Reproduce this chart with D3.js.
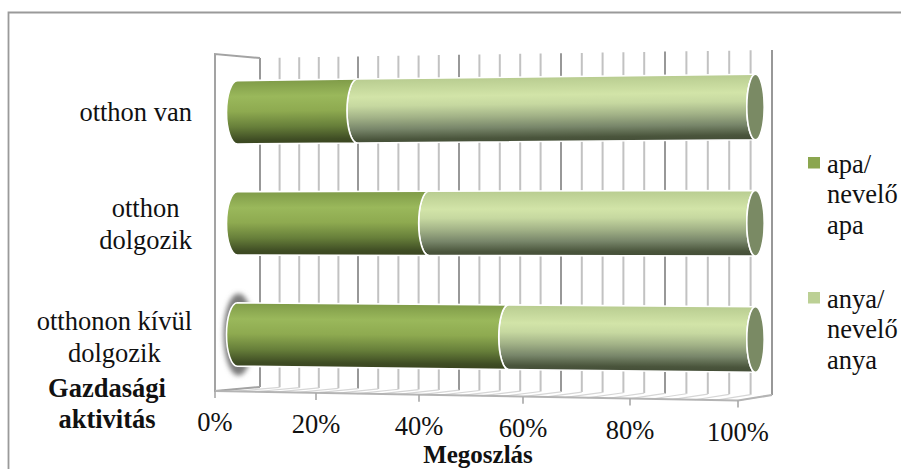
<!DOCTYPE html>
<html lang="hu">
<head>
<meta charset="utf-8">
<title>Gazdasági aktivitás megoszlása</title>
<script src="https://cdn.jsdelivr.net/npm/d3@7/dist/d3.min.js"></script>
<style>
  html, body { margin: 0; padding: 0; background: #fff; }
  svg { display: block; }
  text { font-family: "Liberation Serif", "Times New Roman", serif; fill: #111; }
</style>
</head>
<body>
<svg id="chart" width="901" height="469"></svg>
<script>
// Share of respondents by economic activity (100% stacked cylinders)
const categories = [["otthon van"], ["otthon", "dolgozik"], ["otthonon kívül", "dolgozik"]];
const apaValues = [24, 38, 53.5];
const anyaValues = [76, 62, 46.5];
const percentTicks = [0, 20, 40, 60, 80, 100];
const gridSteps = d3.range(0, 101, 4);
const legendItems = [["apa/", "nevelő", "apa"], ["anya/", "nevelő", "anya"]];
const yTitle = ["Gazdasági", "aktivitás"];
const xTitle = "Megoszlás";

const FONT = 26.5;
const svg = d3.select("#chart");
const defs = svg.append("defs");

// The 3D box: the plot is perspective-skewed, so each depth plane has its own scale
const backX = d3.scaleLinear().domain(percentTicks).range([260, 358, 459, 561, 665, 772]);
const frontX = d3.scaleLinear().domain(percentTicks).range([215, 316, 419, 523, 630, 738]);
const midX = d3.scaleLinear().domain(percentTicks).range([237.5, 337, 439, 542, 647.5, 755.5]);
const backTop = d3.scaleLinear().domain([0, 100]).range([58, 50]);
const backBottom = d3.scaleLinear().domain([0, 100]).range([387, 395]);
const frontBottom = d3.scaleLinear().domain([0, 100]).range([391, 400.5]);

const rowKeys = categories.map((_, i) => i);
const centerLeft = d3.scalePoint().domain(rowKeys).range([112.3, 334.5]);
const centerRight = d3.scalePoint().domain(rowKeys).range([107, 339.5]);
const halfHeight = d3.scaleLinear().domain([0, 100]).range([31.7, 32.8]);
const capRadius = d3.scaleLinear().domain([0, 100]).range([11, 8.7]);

const rowCenter = (row, pct) =>
  d3.interpolateNumber(centerLeft(row), centerRight(row))(pct / 100);

// Chart frame: only the upper and left edges fall inside the page
svg.append("path")
  .attr("d", d3.line()([[8.5, 469], [8.5, 12.5], [901, 12.5]]))
  .attr("fill", "none").attr("stroke", "#9a9a9a").attr("stroke-width", 1.8);

// Back wall grid
const wall = svg.append("g").attr("fill", "none");
wall.selectAll("line.grid").data(gridSteps).join("line")
  .attr("class", "grid")
  .attr("x1", backX).attr("x2", backX)
  .attr("y1", backTop).attr("y2", backBottom)
  .attr("stroke", d => d % 20 === 0 ? "#989898" : "#c2c2c2")
  .attr("stroke-width", 2);

// Floor lines running towards the front edge
wall.selectAll("line.floor").data(gridSteps).join("line")
  .attr("class", "floor")
  .attr("x1", backX).attr("y1", backBottom)
  .attr("x2", frontX).attr("y2", frontBottom)
  .attr("stroke", "#d6d6d6").attr("stroke-width", 1.2);

// Left side wall outline and the front edge of the floor
wall.append("path")
  .attr("d", d3.line()([
    [backX(0), backBottom(0)], [frontX(0), frontBottom(0)],
    [frontX(0), 54], [backX(0), backTop(0)]
  ]))
  .attr("stroke", "#a3a3a3").attr("stroke-width", 2);
wall.append("line")
  .attr("x1", frontX(0)).attr("y1", frontBottom(0))
  .attr("x2", frontX(100)).attr("y2", frontBottom(100))
  .attr("stroke", "#b4b4b4").attr("stroke-width", 2);
wall.append("line")
  .attr("x1", frontX(100)).attr("y1", frontBottom(100))
  .attr("x2", backX(100)).attr("y2", backBottom(100))
  .attr("stroke", "#b4b4b4").attr("stroke-width", 2);

// Percent axis along the slanted front edge
const axis = d3.axisBottom(frontX).tickValues(percentTicks)
  .tickFormat(d => d + "%").tickSize(7);
const axisG = svg.append("g").call(axis);
axisG.select(".domain").remove();
axisG.selectAll(".tick")
  .attr("transform", d => `translate(${frontX(d)},${frontBottom(d)})`);
axisG.selectAll(".tick line").attr("stroke", "#a8a8a8").attr("stroke-width", 1.6);
axisG.selectAll(".tick text")
  .attr("font-size", FONT).attr("y", 40).attr("dy", 0);

// Cylinder shading
const shades = {
  apa: [[0, "#7f9b48"], [0.25, "#9ab85b"], [0.48, "#8eaa50"], [0.72, "#677f3a"], [0.92, "#3f4d24"], [1, "#39441f"]],
  anya: [[0, "#b8cc90"], [0.28, "#d2e4a8"], [0.42, "#c6d8a0"], [0.6, "#a2b287"], [0.78, "#78866a"], [0.94, "#4a553c"], [1, "#454f38"]]
};

function barGradient(id, stops, row) {
  const topL = centerLeft(row) - halfHeight(0);
  const topR = centerRight(row) - halfHeight(100);
  const h = 2 * halfHeight(50);
  const slope = (topR - topL) / (midX(100) - midX(0));
  const g = defs.append("linearGradient").attr("id", id)
    .attr("gradientUnits", "userSpaceOnUse")
    .attr("x1", midX(0)).attr("y1", topL)
    .attr("x2", midX(0) - slope * h).attr("y2", topL + h);
  stops.forEach(([o, c]) => g.append("stop").attr("offset", o).attr("stop-color", c));
}

function segmentPath(row, from, to) {
  const xa = midX(from), xb = midX(to);
  const ca = rowCenter(row, from), cb = rowCenter(row, to);
  const ha = halfHeight(from), hb = halfHeight(to);
  const ra = capRadius(from), rb = capRadius(to);
  const arcB = `A${rb},${hb} 0 0 0 ${xb},${cb + hb}`;
  const arcA = `A${ra},${ha} 0 0 1 ${xa},${ca - ha}`;
  return `M${xa},${ca - ha}L${xb},${cb - hb}${arcB}L${xa},${ca + ha}${arcA}Z`;
}

// Soft halo around the left end of the lowest cylinder
defs.append("filter").attr("id", "halo")
  .attr("x", "-100%").attr("y", "-30%").attr("width", "300%").attr("height", "160%")
  .append("feGaussianBlur").attr("stdDeviation", 2.6);
svg.append("ellipse")
  .attr("cx", midX(0) + 1).attr("cy", rowCenter(2, 0))
  .attr("rx", 15).attr("ry", 41)
  .attr("fill", "#7a7a7a").attr("filter", "url(#halo)");

const bars = svg.append("g");
rowKeys.forEach(row => {
  barGradient(`apa-${row}`, shades.apa, row);
  barGradient(`anya-${row}`, shades.anya, row);
  const split = apaValues[row];
  const total = split + anyaValues[row];
  bars.append("path").attr("d", segmentPath(row, split, total))
    .attr("fill", `url(#anya-${row})`).attr("stroke", "#fff").attr("stroke-width", 1.6);
  bars.append("path").attr("d", segmentPath(row, 0, split))
    .attr("fill", `url(#apa-${row})`).attr("stroke", "#fff").attr("stroke-width", 1.6);
  bars.append("ellipse")
    .attr("cx", midX(total)).attr("cy", rowCenter(row, total))
    .attr("rx", capRadius(total)).attr("ry", halfHeight(total))
    .attr("fill", "#7a8a64").attr("stroke", "#fff").attr("stroke-width", 1.6);
});

// Multi-line block whose widest line ends at the given right edge
function rightBlock(lines, rightEdge, firstBaseline, lineGap) {
  const g = svg.append("g").attr("font-size", FONT).attr("text-anchor", "middle");
  const t = g.selectAll("text").data(lines).join("text")
    .attr("y", (_, i) => firstBaseline + i * lineGap).text(d => d);
  const widest = d3.max(t.nodes(), n => n.getComputedTextLength());
  t.attr("x", rightEdge - widest / 2);
}

const labelBaselines = [120.5, 217, 330];
categories.forEach((lines, i) => rightBlock(lines, 192, labelBaselines[i], 31.5));

svg.append("g").attr("font-size", FONT).attr("font-weight", "bold").attr("text-anchor", "middle")
  .selectAll("text").data(yTitle).join("text")
  .attr("x", 107).attr("y", (_, i) => 397 + i * 31).text(d => d);

svg.append("text").attr("font-size", 25).attr("font-weight", "bold")
  .attr("text-anchor", "middle").attr("x", 478).attr("y", 463).text(xTitle);

// Legend
const legendColors = ["#8ba64f", "#bcd095"];
const legendTops = [157, 292];
legendItems.forEach((lines, i) => {
  svg.append("rect").attr("x", 808).attr("y", legendTops[i])
    .attr("width", 12).attr("height", 11.5).attr("fill", legendColors[i]);
  svg.append("g").attr("font-size", FONT)
    .selectAll("text").data(lines).join("text")
    .attr("x", 827).attr("y", (_, k) => legendTops[i] + 15.5 + k * 30.5).text(d => d);
});
</script>
</body>
</html>
